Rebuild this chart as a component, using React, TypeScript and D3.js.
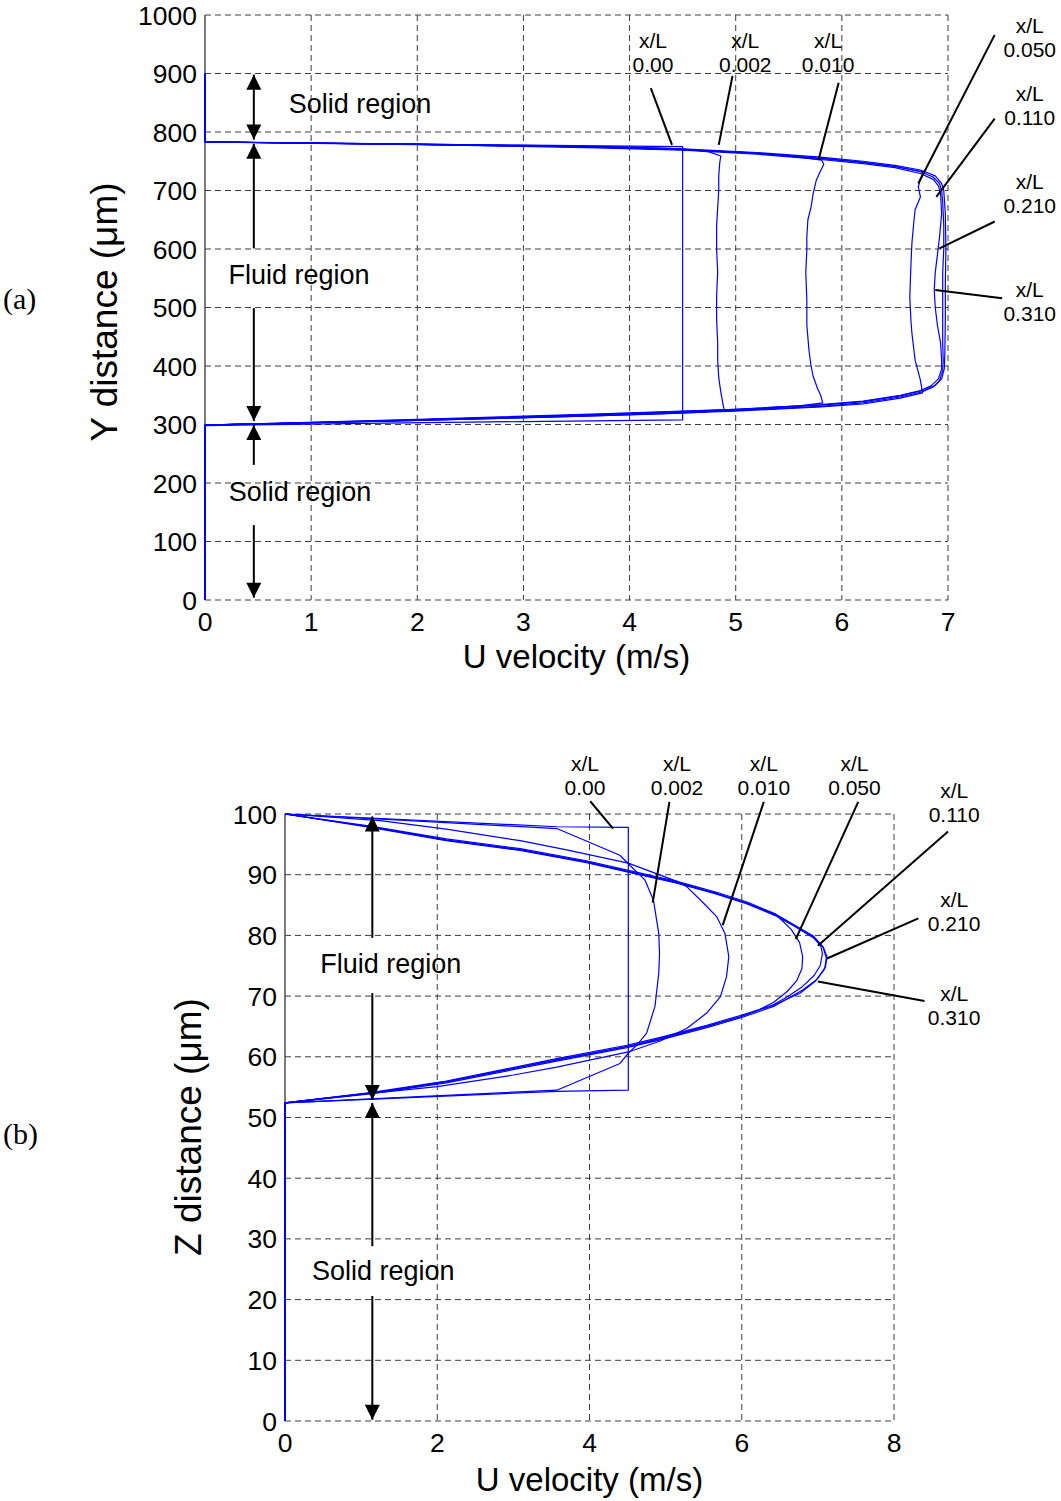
import React from "react";
import * as d3 from "d3";

type Pt = [number, number];

const FONT = "'Liberation Sans', Arial, sans-serif";
const SERIF = "'Liberation Serif', 'Times New Roman', serif";
const BLUE = "#0000ff";
const GRID = "#3c3c3c";

// ---------------- Panel (a): U velocity vs Y distance ----------------
const xTicksA = [0, 1, 2, 3, 4, 5, 6, 7];
const yTicksA = [0, 100, 200, 300, 400, 500, 600, 700, 800, 900, 1000];
const stationsA = ["0.00", "0.002", "0.010", "0.050", "0.110", "0.210", "0.310"];

const profileA_000: Pt[] = [
  [0, 900], [0, 783], [1.5, 780], [3, 777.5], [4.5, 775], [4.5, 308], [3, 305], [1.5, 302], [0, 298], [0, 0],
];
const profileA_002: Pt[] = [
  [0, 900], [0, 783], [1.5, 780], [3, 777], [4.0, 774], [4.5, 771], [4.75, 766], [4.86, 759], [4.85, 748],
  [4.84, 725], [4.84, 700], [4.83, 670], [4.82, 640], [4.82, 600], [4.83, 560], [4.82, 520], [4.82, 480],
  [4.83, 440], [4.83, 410], [4.84, 380], [4.86, 355], [4.88, 335], [4.89, 326], [4.7, 321], [4.3, 318],
  [3.5, 314], [2.5, 309], [1.5, 305], [0, 299], [0, 0],
];
const profileA_010: Pt[] = [
  [0, 900], [0, 783], [2, 779], [3.5, 775], [4.5, 770], [5.2, 764], [5.6, 757], [5.81, 752], [5.83, 745],
  [5.79, 730], [5.76, 718], [5.73, 695], [5.71, 672], [5.68, 650], [5.67, 620], [5.67, 598], [5.66, 560],
  [5.67, 513], [5.67, 470], [5.69, 427], [5.71, 400], [5.73, 382], [5.77, 362], [5.8, 350], [5.82, 337],
  [5.6, 332], [5.0, 326], [4.0, 319], [3.0, 313], [2.0, 308], [1.0, 303], [0, 299], [0, 0],
];
const profileA_050: Pt[] = [
  [0, 900], [0, 783], [2, 779], [3.7, 774], [4.5, 770], [5.2, 764], [5.8, 755], [6.2, 748], [6.5, 741],
  [6.77, 732], [6.74, 720], [6.72, 706], [6.74, 689], [6.69, 667], [6.68, 650], [6.66, 610], [6.65, 570],
  [6.64, 518], [6.65, 480], [6.66, 456], [6.69, 410], [6.72, 390], [6.74, 376], [6.76, 354], [6.55, 345],
  [6.2, 335], [5.8, 330], [5.0, 323], [3.72, 315], [2, 307], [0, 299], [0, 0],
];
const profileA_110: Pt[] = [
  [0, 900], [0, 783], [2, 779], [3.7, 774], [4.5, 770], [5.2, 764], [5.8, 755], [6.2, 748], [6.5, 741],
  [6.74, 732], [6.86, 723], [6.92, 712], [6.94, 700], [6.95, 680], [6.96, 640], [6.96, 600], [6.95, 560],
  [6.95, 520], [6.95, 480], [6.95, 440], [6.955, 410], [6.95, 392], [6.92, 375], [6.86, 364], [6.76, 356],
  [6.55, 347], [6.2, 337], [5.8, 331], [5.0, 324], [3.72, 316], [2, 307], [0, 299], [0, 0],
];
const profileA_210: Pt[] = [
  [0, 900], [0, 783], [2, 779.5], [3.7, 775], [4.5, 771], [5.2, 765], [5.8, 757], [6.2, 750], [6.5, 743],
  [6.74, 735], [6.88, 725], [6.94, 712], [6.96, 700], [6.975, 660], [6.98, 600], [6.975, 540], [6.975, 480],
  [6.97, 420], [6.965, 395], [6.94, 378], [6.88, 367], [6.78, 359], [6.55, 349], [6.2, 339], [5.8, 333],
  [5.0, 325], [3.72, 317], [2, 308], [0, 299], [0, 0],
];
const profileA_310: Pt[] = [
  [0, 900], [0, 783], [2, 778.5], [3.7, 773], [4.5, 769], [5.2, 762], [5.8, 753], [6.2, 746], [6.5, 739],
  [6.74, 729], [6.86, 719], [6.91, 708], [6.93, 695], [6.94, 660], [6.92, 620], [6.9, 590], [6.88, 560],
  [6.87, 530], [6.88, 500], [6.9, 470], [6.93, 440], [6.94, 410], [6.94, 395], [6.91, 378], [6.84, 366],
  [6.74, 358], [6.55, 350], [6.2, 340], [5.8, 334], [5.0, 326], [3.72, 318], [2, 309], [0, 299], [0, 0],
];
const profilesA = [profileA_000, profileA_002, profileA_010, profileA_050, profileA_110, profileA_210, profileA_310];

// ---------------- Panel (b): U velocity vs Z distance ----------------
const xTicksB = [0, 2, 4, 6, 8];
const yTicksB = [0, 10, 20, 30, 40, 50, 60, 70, 80, 90, 100];
const stationsB = ["0.00", "0.002", "0.010", "0.050", "0.110", "0.210", "0.310"];

const profileB_000: Pt[] = [
  [0, 0], [0, 52.4], [3.57, 54.3], [4.51, 54.5], [4.51, 97.8], [3.57, 97.9], [0, 100],
];
const profileB_002: Pt[] = [
  [0, 0], [0, 52.4], [3.57, 54.5], [4.4, 58.9], [4.51, 60.6], [4.62, 61.9], [4.75, 63.9], [4.86, 68.3],
  [4.91, 73.8], [4.92, 77], [4.91, 80.3], [4.84, 85.8], [4.73, 89.1], [4.51, 91.8], [4.4, 93.2],
  [3.57, 97.6], [0, 100],
];
const profileB_010: Pt[] = [
  [0, 0], [0, 52.4], [1.0, 53.8], [2.0, 55.1], [3.0, 57.0], [3.57, 58.3], [4.51, 60.8], [4.93, 62.6],
  [5.28, 64.7], [5.54, 67.2], [5.72, 69.9], [5.8, 73.2], [5.83, 76.5], [5.78, 80.3], [5.67, 83.1],
  [5.5, 85.3], [5.28, 88.0], [5.15, 88.9], [4.51, 91.9], [3.7, 94.1], [3.09, 95.6], [2.12, 97.5],
  [1.25, 98.9], [0, 100],
];
const profileB_050: Pt[] = [
  [0, 0], [0, 52.4], [1.12, 54.0], [2.12, 55.9], [3.57, 59.5], [4.49, 61.7], [4.93, 63.0], [5.54, 65.0],
  [5.98, 66.6], [6.2, 67.6], [6.42, 69.0], [6.6, 70.8], [6.72, 72.5], [6.79, 74.5], [6.8, 76.5],
  [6.76, 78.8], [6.65, 81.0], [6.45, 83.4], [6.07, 85.3], [5.67, 86.9], [5.15, 88.7], [4.51, 90.5],
  [3.96, 92.1], [3.09, 94.1], [2.12, 95.7], [1.12, 97.9], [0, 100],
];
const profileB_110: Pt[] = [
  [0, 0], [0, 52.4], [1.12, 54.0], [2.12, 55.9], [3.57, 59.5], [4.49, 61.7], [4.93, 63.0], [5.54, 65.0],
  [5.98, 66.6], [6.42, 68.6], [6.6, 69.9], [6.8, 71.6], [6.95, 73.4], [7.03, 75.0], [7.06, 77.0],
  [7.04, 78.2], [6.94, 79.8], [6.68, 81.7], [6.45, 83.3], [6.07, 85.3], [5.67, 86.9], [5.15, 88.7],
  [4.51, 90.5], [3.96, 92.1], [3.09, 94.1], [2.12, 95.7], [1.12, 97.9], [0, 100],
];
const profileB_210: Pt[] = [
  [0, 0], [0, 52.4], [1.12, 53.9], [2.12, 55.7], [3.57, 59.3], [4.49, 61.5], [4.93, 62.8], [5.54, 64.8],
  [5.98, 66.4], [6.42, 68.3], [6.8, 71.0], [6.99, 72.8], [7.1, 74.8], [7.12, 76.5], [7.07, 78.1],
  [6.94, 79.9], [6.68, 81.8], [6.45, 83.5], [6.07, 85.5], [5.67, 87.1], [5.15, 88.9], [4.51, 90.7],
  [3.96, 92.3], [3.09, 94.3], [2.12, 95.9], [1.12, 98.0], [0, 100],
];
const profileB_310: Pt[] = [
  [0, 0], [0, 52.4], [1.12, 54.1], [2.12, 56.0], [3.57, 59.7], [4.49, 61.9], [4.93, 63.2], [5.54, 65.2],
  [5.98, 66.8], [6.42, 68.5], [6.77, 70.5], [6.97, 72.5], [7.09, 74.5], [7.11, 76.3], [7.07, 78.0],
  [6.94, 79.6], [6.68, 81.6], [6.45, 83.2], [6.07, 85.2], [5.67, 86.8], [5.15, 88.6], [4.51, 90.4],
  [3.96, 92.0], [3.09, 94.0], [2.12, 95.6], [1.12, 97.8], [0, 100],
];
const profilesB = [profileB_000, profileB_002, profileB_010, profileB_050, profileB_110, profileB_210, profileB_310];

// ---------------- Annotation layout (data coordinates) ----------------
type Callout = { label: string; at: Pt; from: Pt; to: Pt };
type ArrowSeg = { u: number; v1: number; v2: number; head1: boolean; head2: boolean };
type Region = { text: string; at: Pt };

const calloutAnchorsA: { at: Pt; from: Pt; to: Pt }[] = [
  { at: [4.22, 903], from: [4.2, 875], to: [4.4, 778] },
  { at: [5.09, 903], from: [4.97, 896], to: [4.84, 778] },
  { at: [5.87, 903], from: [5.97, 884], to: [5.78, 752] },
  { at: [7.77, 929], from: [7.44, 966], to: [6.72, 712] },
  { at: [7.77, 812], from: [7.44, 823], to: [6.89, 689] },
  { at: [7.77, 661], from: [7.44, 647], to: [6.92, 601] },
  { at: [7.77, 477], from: [7.51, 516], to: [6.88, 530] },
];
const calloutAnchorsB: { at: Pt; from: Pt; to: Pt }[] = [
  { at: [3.94, 103.2], from: [4.01, 102.1], to: [4.31, 97.6] },
  { at: [5.15, 103.2], from: [5.05, 102.0], to: [4.83, 85.4] },
  { at: [6.29, 103.2], from: [6.29, 102.0], to: [5.75, 81.7] },
  { at: [7.48, 103.2], from: [7.53, 102.0], to: [6.71, 79.4] },
  { at: [8.79, 98.6], from: [8.71, 97.1], to: [7.0, 78.3] },
  { at: [8.79, 80.8], from: [8.32, 82.8], to: [7.12, 76.2] },
  { at: [8.79, 65.2], from: [8.4, 69.2], to: [7.0, 72.4] },
];
const calloutsA: Callout[] = stationsA.map((s, i) => ({ label: s, ...calloutAnchorsA[i] }));
const calloutsB: Callout[] = stationsB.map((s, i) => ({ label: s, ...calloutAnchorsB[i] }));

const arrowsA: ArrowSeg[] = [
  { u: 0.46, v1: 898, v2: 787, head1: true, head2: true },
  { u: 0.46, v1: 780, v2: 601, head1: true, head2: false },
  { u: 0.46, v1: 499, v2: 306, head1: false, head2: true },
  { u: 0.46, v1: 299, v2: 231, head1: true, head2: false },
  { u: 0.46, v1: 128, v2: 4, head1: false, head2: true },
];
const arrowsB: ArrowSeg[] = [
  { u: 1.147, v1: 99.6, v2: 79.6, head1: true, head2: false },
  { u: 1.147, v1: 70.5, v2: 52.9, head1: false, head2: true },
  { u: 1.147, v1: 52.4, v2: 28.8, head1: true, head2: false },
  { u: 1.147, v1: 20.6, v2: 0.2, head1: false, head2: true },
];
const regionsA: Region[] = [
  { text: "Solid region", at: [1.46, 832] },
  { text: "Fluid region", at: [0.886, 540] },
  { text: "Solid region", at: [0.895, 169] },
];
const regionsB: Region[] = [
  { text: "Fluid region", at: [1.39, 73.8] },
  { text: "Solid region", at: [1.29, 23.2] },
];

type PanelProps = {
  left: number; right: number; top: number; bottom: number;
  xDomain: [number, number]; yDomain: [number, number];
  xTicks: number[]; yTicks: number[];
  profiles: Pt[][]; callouts: Callout[]; arrows: ArrowSeg[]; regions: Region[];
  xLabel: string; yLabel: string; xLabelY: number; yLabelX: number; yLabelCY: number;
  tag: string; tagY: number;
};

function Panel(p: PanelProps) {
  const x = d3.scaleLinear().domain(p.xDomain).range([p.left, p.right]);
  const y = d3.scaleLinear().domain(p.yDomain).range([p.bottom, p.top]);
  const line = d3.line<Pt>().x((d) => x(d[0])).y((d) => y(d[1]));
  const head = (px: number, py: number, dir: number) => {
    const b = py - dir * 15;
    return `${px},${py} ${px - 7.5},${b} ${px + 7.5},${b}`;
  };
  return (
    <g>
      {/* grid */}
      {p.yTicks.map((t) => (
        <line key={"gy" + t} x1={p.left} x2={p.right} y1={y(t)} y2={y(t)} stroke={GRID} strokeWidth={1} strokeDasharray="6,4" />
      ))}
      {p.xTicks.filter((t) => t !== p.xDomain[0]).map((t) => (
        <line key={"gx" + t} x1={x(t)} x2={x(t)} y1={p.top} y2={p.bottom} stroke={GRID} strokeWidth={1} strokeDasharray="6,4" />
      ))}
      <line x1={p.left} x2={p.left} y1={p.top} y2={p.bottom} stroke="#333" strokeWidth={1.3} />
      {/* tick labels */}
      {p.yTicks.map((t) => (
        <text key={"ty" + t} x={p.left - 8} y={y(t) + 9.5} textAnchor="end" fontFamily={FONT} fontSize={26.5} fill="#000">{t}</text>
      ))}
      {p.xTicks.map((t) => (
        <text key={"tx" + t} x={x(t)} y={p.bottom + 31} textAnchor="middle" fontFamily={FONT} fontSize={26.5} fill="#000">{t}</text>
      ))}
      {/* profiles */}
      {p.profiles.map((pr, i) => (
        <path key={"pr" + i} d={line(pr) || ""} fill="none" stroke={BLUE} strokeWidth={1.2} strokeLinejoin="round" />
      ))}
      {/* callouts */}
      {p.callouts.map((c, i) => (
        <g key={"c" + i}>
          <line x1={x(c.from[0])} y1={y(c.from[1])} x2={x(c.to[0])} y2={y(c.to[1])} stroke="#000" strokeWidth={2} />
          <text x={x(c.at[0])} y={y(c.at[1]) - 24} textAnchor="middle" fontFamily={FONT} fontSize={21}>x/L</text>
          <text x={x(c.at[0])} y={y(c.at[1])} textAnchor="middle" fontFamily={FONT} fontSize={21}>{c.label}</text>
        </g>
      ))}
      {/* region arrows */}
      {p.arrows.map((a, i) => {
        const ax = x(a.u);
        const y1 = y(a.v1);
        const y2 = y(a.v2);
        return (
          <g key={"a" + i}>
            <line x1={ax} x2={ax} y1={y1} y2={y2} stroke="#000" strokeWidth={2} />
            {a.head1 && <polygon points={head(ax, y1, -1)} fill="#000" />}
            {a.head2 && <polygon points={head(ax, y2, 1)} fill="#000" />}
          </g>
        );
      })}
      {p.regions.map((r, i) => (
        <text key={"r" + i} x={x(r.at[0])} y={y(r.at[1])} textAnchor="middle" fontFamily={FONT} fontSize={27}>{r.text}</text>
      ))}
      {/* axis titles */}
      <text x={(p.left + p.right) / 2} y={p.xLabelY} textAnchor="middle" fontFamily={FONT} fontSize={33}>{p.xLabel}</text>
      <text transform={`translate(${p.yLabelX},${p.yLabelCY}) rotate(-90)`} textAnchor="middle" fontFamily={FONT} fontSize={37}>{p.yLabel}</text>
      <text x={3} y={p.tagY} fontFamily={SERIF} fontSize={30}>{p.tag}</text>
    </g>
  );
}

export default function App() {
  return (
    <svg width={1061} height={1501} viewBox="0 0 1061 1501" style={{ position: "absolute", left: 0, top: 0, background: "#fff" }}>
      <rect width={1061} height={1501} fill="#fff" />
      <Panel
        left={205} right={948} top={15} bottom={600}
        xDomain={[0, 7]} yDomain={[0, 1000]}
        xTicks={xTicksA} yTicks={yTicksA}
        profiles={profilesA} callouts={calloutsA} arrows={arrowsA} regions={regionsA}
        xLabel="U velocity (m/s)" yLabel="Y distance (μm)"
        xLabelY={668} yLabelX={117} yLabelCY={312}
        tag="(a)" tagY={309}
      />
      <Panel
        left={285} right={894} top={814} bottom={1421}
        xDomain={[0, 8]} yDomain={[0, 100]}
        xTicks={xTicksB} yTicks={yTicksB}
        profiles={profilesB} callouts={calloutsB} arrows={arrowsB} regions={regionsB}
        xLabel="U velocity (m/s)" yLabel="Z distance (μm)"
        xLabelY={1491} yLabelX={201} yLabelCY={1127}
        tag="(b)" tagY={1144}
      />
    </svg>
  );
}
